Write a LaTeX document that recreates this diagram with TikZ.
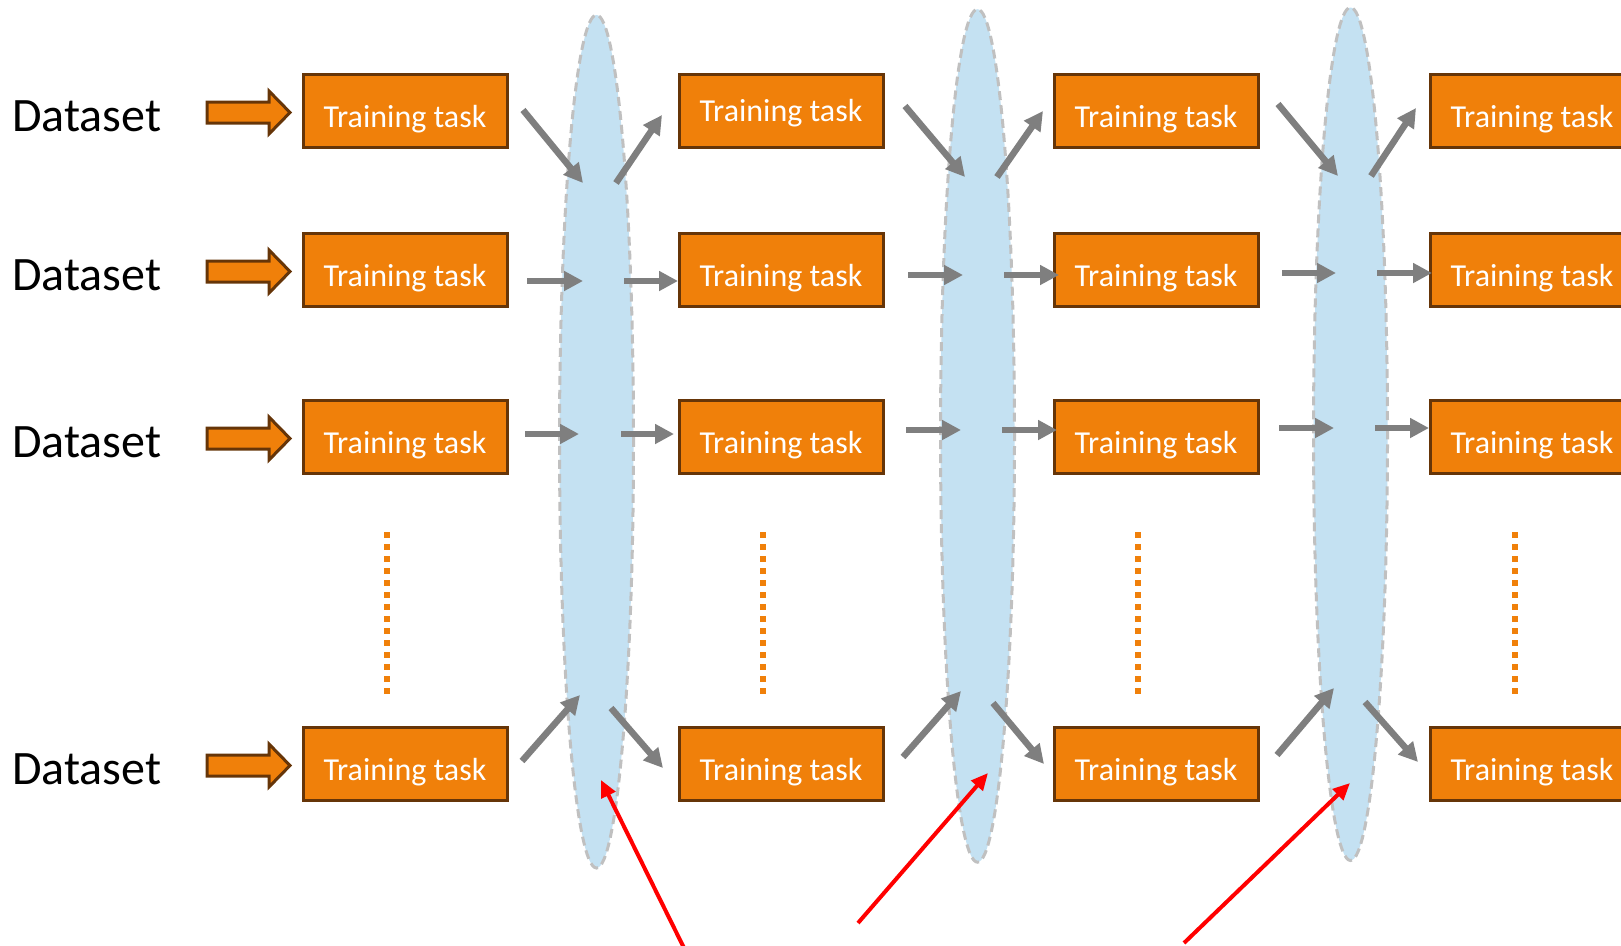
\documentclass[tikz,border=0pt]{standalone}
\usepackage{fontspec}
\setmainfont{Carlito}
\usetikzlibrary{shapes.geometric,arrows.meta}

\definecolor{taskorange}{HTML}{F0800A}
\definecolor{taskedge}{HTML}{663508}
\definecolor{poolblue}{HTML}{C4E1F2}
\definecolor{pooledge}{HTML}{C0C0C0}
\definecolor{flowgray}{HTML}{7F7F7F}

\begin{document}
\begin{tikzpicture}[x=1pt,y=-1pt,
  taskbox/.style={draw=taskedge, fill=taskorange, line width=3pt,
    minimum width=204pt, minimum height=73pt, inner sep=0pt,
    text=white, font=\fontsize{32}{38}\selectfont,
    text height=33pt, text depth=0pt},
  datalabel/.style={inner sep=0pt, font=\fontsize{48}{56}\selectfont},
  pool/.style={ellipse, draw=pooledge, fill=poolblue, line width=3pt,
    dash pattern=on 9pt off 5pt, minimum width=74pt, minimum height=853pt,
    inner sep=0pt},
  feedarrow/.style={draw=taskedge, fill=taskorange, line width=3pt,
    line join=miter},
  flow/.style={draw=flowgray, line width=6.5pt,
    -{Triangle[length=19pt, width=19pt]}},
  pointer/.style={draw=red, line width=4pt,
    -{Triangle[length=17pt, width=15pt]}},
  ellipsis/.style={draw=taskorange, line width=6pt, dash pattern=on 6pt off 6pt}
]
\useasboundingbox (0,0) rectangle (1621,945);
\clip (0,0) rectangle (1621,945);

% shared pools between training stages
\node[pool] (e1) at (596.5,441.5) {};
\node[pool] (e2) at (977.5,435.7) {};
\node[pool] (e3) at (1350.5,434) {};

% dataset labels and feed arrows
\foreach \r/\yc in {1/110.5, 2/269.5, 3/436.5, 4/763.5} {
  \node[datalabel, anchor=base west] (d\r) at (12,\yc+21) {Dataset};
  \draw[feedarrow] (207,\yc-8.5) -- (269,\yc-8.5) -- (269,\yc-19.5)
    -- (290,\yc+2) -- (269,\yc+23.5) -- (269,\yc+12.5) -- (207,\yc+12.5) -- cycle;
}

% training tasks
\node[taskbox] (t11) at (405,110.5) {Training task};
\node[taskbox, text height=21pt] (t12) at (781,110.5) {Training task};
\node[taskbox] (t13) at (1156,110.5) {Training task};
\node[taskbox] (t14) at (1532,110.5) {Training task};
\node[taskbox] (t21) at (405,269.5) {Training task};
\node[taskbox] (t22) at (781,269.5) {Training task};
\node[taskbox] (t23) at (1156,269.5) {Training task};
\node[taskbox] (t24) at (1532,269.5) {Training task};
\node[taskbox] (t31) at (405,436.5) {Training task};
\node[taskbox] (t32) at (781,436.5) {Training task};
\node[taskbox] (t33) at (1156,436.5) {Training task};
\node[taskbox] (t34) at (1532,436.5) {Training task};
\node[taskbox] (t41) at (405,763.5) {Training task};
\node[taskbox] (t42) at (781,763.5) {Training task};
\node[taskbox] (t43) at (1156,763.5) {Training task};
\node[taskbox] (t44) at (1532,763.5) {Training task};

% vertical ellipsis below the third row
\foreach \c/\xc in {1/387, 2/763, 3/1138, 4/1515} {
  \coordinate (v\c a) at (\xc,532);
  \coordinate (v\c b) at (\xc,694);
  \draw[ellipsis] (v\c a) -- (v\c b);
}

% exchange arrows into and out of each pool
\foreach \n/\ax/\ay/\bx/\by in {
  1/523/110/583/183, 2/616/183/662/115,
  3/527/281/583/281, 4/624/281/678/281,
  5/525/434/579/434, 6/621/434/674/434,
  7/522/761/580/695, 8/611/708/663/768,
  9/905/106/965/177, 10/997/177/1043/111,
  11/908/275/963/275, 12/1004/275/1059/275,
  13/906/430/961/430, 14/1002/430/1057/430,
  15/903/757/961/691, 16/993/703/1044/764,
  17/1278/104/1338/176, 18/1371/176/1416/108,
  19/1282/273/1336/273, 20/1377/273/1432/273,
  21/1279/428/1334/428, 22/1375/428/1429/428,
  23/1277/755/1334/688, 24/1365/702/1418/762} {
  \coordinate (f\n a) at (\ax,\ay);
  \coordinate (f\n b) at (\bx,\by);
  \draw[flow] (f\n a) -- (f\n b);
}

% pointers to the pools
\coordinate (p1a) at (686,952);
\coordinate (p1b) at (601,780);
\coordinate (p2a) at (858,923);
\coordinate (p2b) at (988,773);
\coordinate (p3a) at (1184,943);
\coordinate (p3b) at (1350,783);
\draw[pointer] (p1a) -- (p1b);
\draw[pointer] (p2a) -- (p2b);
\draw[pointer] (p3a) -- (p3b);
\end{tikzpicture}
\end{document}
